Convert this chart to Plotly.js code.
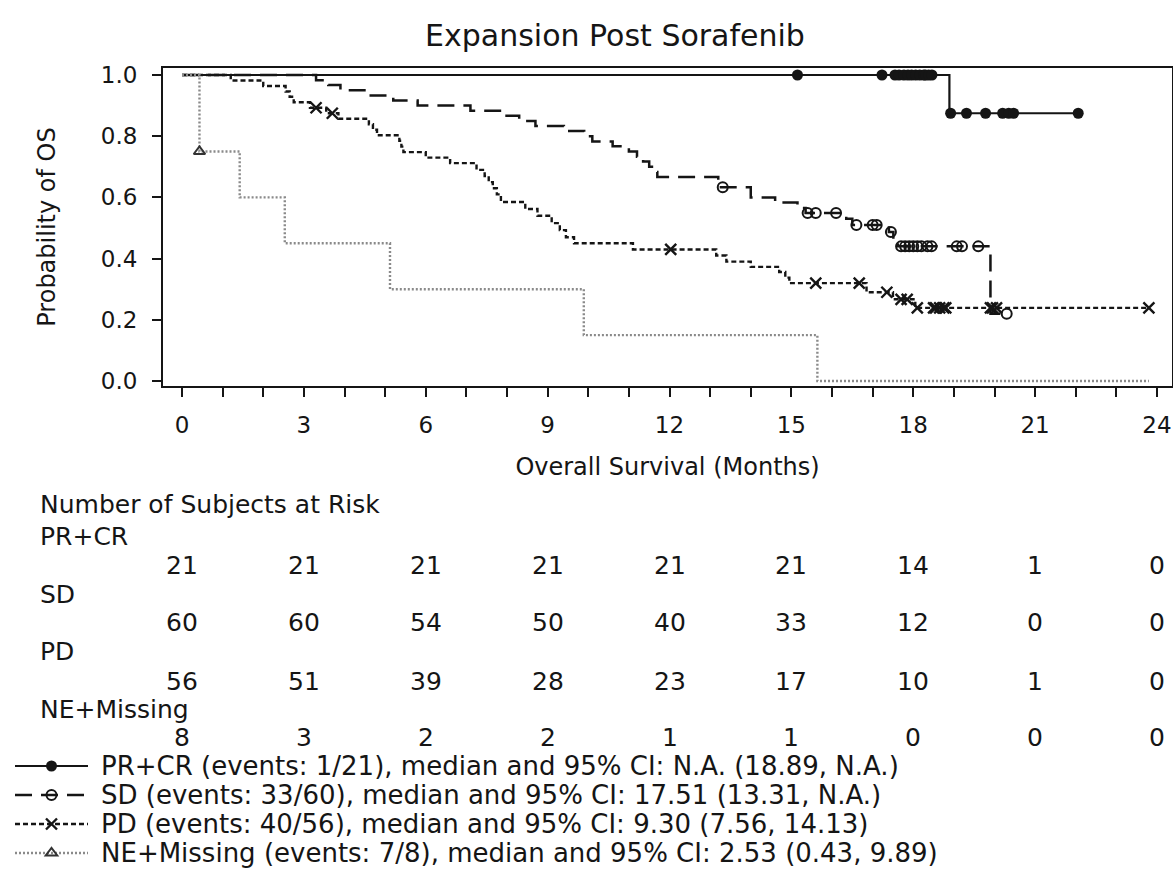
<!DOCTYPE html>
<html><head><meta charset="utf-8">
<script src="https://cdn.plot.ly/plotly-3.0.1.min.js"></script>
<style>html,body{margin:0;padding:0;background:#fff;} #chart{width:1173px;height:887px;}</style>
</head><body><div id="chart"></div>
<script>
// ---------- data ----------
const timeTicks = [0, 3, 6, 9, 12, 15, 18, 21, 24];
const groupNames = ['PR+CR', 'SD', 'PD', 'NE+Missing'];
const legendLabels = [
  'PR+CR (events: 1/21), median and 95% CI: N.A. (18.89, N.A.)',
  'SD (events: 33/60), median and 95% CI: 17.51 (13.31, N.A.)',
  'PD (events: 40/56), median and 95% CI: 9.30 (7.56, 14.13)',
  'NE+Missing (events: 7/8), median and 95% CI: 2.53 (0.43, 9.89)'
];
const atRiskPRCR = [21, 21, 21, 21, 21, 21, 14, 1, 0];
const atRiskSD   = [60, 60, 54, 50, 40, 33, 12, 0, 0];
const atRiskPD   = [56, 51, 39, 28, 23, 17, 10, 1, 0];
const atRiskNE   = [8, 3, 2, 2, 1, 1, 0, 0, 0];

// PR+CR
const prcrEventT  = [18.89];
const prcrEventS  = [0.875];
const prcrCensorT = [15.15, 17.23, 17.55, 17.65, 17.77, 17.87, 17.96, 18.06, 18.16, 18.26, 18.3, 18.38, 18.46,
                     18.92, 19.31, 19.78, 20.2, 20.35, 20.47, 22.06];
// SD
const sdEventT  = [3.3, 3.6, 3.9, 4.6, 5.2, 5.8, 7.1, 7.9, 8.3, 8.7, 9.4, 9.9, 10.1, 10.6, 11.0, 11.2, 11.35,
                   11.5, 11.6, 11.7, 13.2, 14.0, 14.6, 15.15, 15.35, 16.35, 16.5, 17.4, 17.51, 17.62, 19.9];
const sdEventS  = [0.983, 0.967, 0.950, 0.933, 0.917, 0.900, 0.883, 0.867, 0.850, 0.833, 0.817, 0.800, 0.783,
                   0.767, 0.750, 0.733, 0.717, 0.700, 0.683, 0.667, 0.633, 0.600, 0.583, 0.565, 0.549, 0.530,
                   0.510, 0.487, 0.463, 0.440, 0.220];
const sdCensorT = [13.31, 15.4, 15.6, 16.1, 16.6, 17.0, 17.1, 17.45, 17.7, 17.8, 17.9, 18.0, 18.1, 18.2, 18.35,
                   18.45, 19.07, 19.2, 19.6, 20.3];
// PD
const pdEventT  = [1.2, 2.0, 2.55, 2.65, 2.75, 3.15, 3.55, 3.85, 4.6, 4.7, 4.8, 5.35, 5.4, 5.45, 6.0, 6.6,
                   7.25, 7.45, 7.55, 7.65, 7.75, 7.85, 8.45, 8.75, 9.1, 9.3, 9.45, 9.65, 11.1, 13.15, 13.4,
                   14.0, 14.7, 14.85, 14.95, 16.85, 17.5, 18.05];
const pdEventS  = [0.982, 0.964, 0.946, 0.929, 0.911, 0.893, 0.875, 0.857, 0.839, 0.821, 0.803, 0.785, 0.766,
                   0.748, 0.730, 0.712, 0.690, 0.670, 0.650, 0.630, 0.610, 0.585, 0.562, 0.540, 0.516, 0.493,
                   0.470, 0.450, 0.430, 0.410, 0.390, 0.373, 0.356, 0.338, 0.320, 0.290, 0.267, 0.239];
const pdCensorT = [3.3, 3.7, 12.03, 15.6, 16.67, 17.35, 17.7, 17.85, 18.1, 18.5, 18.55, 18.65, 18.75, 18.8,
                   19.9, 19.95, 20.05, 23.8];
// NE+Missing
const neEventT  = [0.43, 1.42, 2.53, 5.12, 9.89, 15.64];
const neEventS  = [0.75, 0.60, 0.45, 0.30, 0.15, 0.0];
const neCensorT = [0.43];
const neFollowUpEnd = 23.8;

// ---------- helpers ----------
function buildKM(eventT, eventS, censorT, endT) {
  const items = [];
  eventT.forEach((t, i) => items.push({t: t, s: eventS[i], ev: true}));
  censorT.forEach(t => items.push({t: t, ev: false}));
  items.sort((a, b) => a.t - b.t || (a.ev === b.ev ? 0 : (a.ev ? -1 : 1)));
  const x = [0], y = [1], sel = [];
  let cur = 1;
  items.forEach(it => {
    if (it.ev) { cur = it.s; x.push(it.t); y.push(cur); }
    else { x.push(it.t); y.push(cur); sel.push(x.length - 1); }
  });
  if (endT !== undefined) { x.push(endT); y.push(cur); }
  return {x, y, sel};
}

const FONT = 'DejaVu Sans, Verdana, sans-serif';
const INK = '#151515';

const styles = [
  {dash: 'solid',     color: INK,       width: 2.2, symbol: 'circle',           msize: 11, mcolor: INK,    mlw: 0},
  {dash: '17px,9px',  color: INK,       width: 2.5, symbol: 'circle-open',      msize: 10, mcolor: INK,    mlw: 2},
  {dash: '5px,3px',   color: INK,       width: 2.4, symbol: 'x-thin-open',      msize: 11, mcolor: INK,    mlw: 2.4},
  {dash: '2px,2px',   color: '#8a8a8a', width: 2.4, symbol: 'triangle-up-open', msize: 10, mcolor: '#333', mlw: 2}
];

const kms = [
  buildKM(prcrEventT, prcrEventS, prcrCensorT),
  buildKM(sdEventT, sdEventS, sdCensorT),
  buildKM(pdEventT, pdEventS, pdCensorT),
  buildKM(neEventT, neEventS, neCensorT, neFollowUpEnd)
];

const traces = kms.map((km, i) => ({
  type: 'scatter',
  mode: 'lines+markers',
  x: km.x, y: km.y,
  name: '',
  legendgroup: groupNames[i],
  line: {shape: 'hv', dash: styles[i].dash, color: styles[i].color, width: styles[i].width},
  marker: {symbol: styles[i].symbol, size: styles[i].msize, color: styles[i].mcolor,
           line: {color: styles[i].mcolor, width: styles[i].mlw}},
  selectedpoints: km.sel,
  selected: {marker: {opacity: 1}},
  unselected: {marker: {opacity: 0}},
  hoverinfo: 'skip'
}));

// ---------- layout geometry ----------
const plotTop = 68, plotBottom = 386;
const py = yPix => (plotBottom - yPix) / (plotBottom - plotTop);
const plotLeft = 163, plotWidth = 1009;
const px = xPix => (xPix - plotLeft) / plotWidth;

const TABLE_SIZE = 25;
const annotations = [];
const labelX = px(38);
annotations.push({text: 'Number of Subjects at Risk', xref: 'paper', yref: 'paper', x: labelX, y: py(504),
                  xanchor: 'left', yanchor: 'middle', showarrow: false, font: {family: FONT, size: TABLE_SIZE, color: INK}});
const riskRows = [atRiskPRCR, atRiskSD, atRiskPD, atRiskNE];
const nameY = [536, 594, 651, 709];
const numY  = [565, 622, 681, 737];
riskRows.forEach((row, g) => {
  annotations.push({text: groupNames[g], xref: 'paper', yref: 'paper', x: labelX, y: py(nameY[g]),
                    xanchor: 'left', yanchor: 'middle', showarrow: false, font: {family: FONT, size: TABLE_SIZE, color: INK}});
  row.forEach((n, k) => {
    annotations.push({text: String(n), xref: 'x', yref: 'paper', x: timeTicks[k], y: py(numY[g]),
                      xanchor: 'center', yanchor: 'middle', showarrow: false, font: {family: FONT, size: TABLE_SIZE, color: INK}});
  });
});
const legendY = [766, 795, 824, 853];
legendLabels.forEach((lab, g) => {
  annotations.push({text: lab, xref: 'paper', yref: 'paper', x: px(99), y: py(legendY[g]),
                    xanchor: 'left', yanchor: 'middle', showarrow: false, font: {family: FONT, size: 26, color: INK}});
});

const layout = {
  width: 1173, height: 887,
  paper_bgcolor: '#fff', plot_bgcolor: '#fff',
  margin: {l: plotLeft, r: 1173 - plotLeft - plotWidth, t: plotTop, b: 887 - plotBottom, pad: 0},
  font: {family: FONT, size: 23, color: INK},
  title: {text: 'Expansion Post Sorafenib', x: 615 / 1173, xref: 'container', xanchor: 'center',
          y: 1 - 35 / 887, yref: 'container', yanchor: 'middle', font: {family: FONT, size: 30, color: INK}},
  xaxis: {
    range: [-0.4677, 24.369], tickvals: timeTicks, ticktext: timeTicks.map(String),
    ticks: 'outside', ticklen: 9, tickwidth: 2, tickcolor: INK,
    minor: {dtick: 1, tick0: 0, ticks: 'outside', ticklen: 9, tickwidth: 2, tickcolor: INK, showgrid: false},
    showline: true, linewidth: 2, linecolor: INK, mirror: true,
    showgrid: false, zeroline: false, ticklabelstandoff: 8,
    tickfont: {family: FONT, size: 23, color: INK},
    title: {text: 'Overall Survival (Months)', standoff: 22, font: {family: FONT, size: 24, color: INK}}
  },
  yaxis: {
    range: [-0.0163, 1.0229], tickvals: [0, 0.2, 0.4, 0.6, 0.8, 1.0], tickformat: '.1f',
    ticks: 'outside', ticklen: 9, tickwidth: 2, tickcolor: INK,
    showline: true, linewidth: 2, linecolor: INK, mirror: true,
    showgrid: false, zeroline: false, ticklabelstandoff: 10,
    tickfont: {family: FONT, size: 23, color: INK},
    title: {text: 'Probability of OS', standoff: 38, font: {family: FONT, size: 24, color: INK}}
  },
  showlegend: true,
  legend: {
    x: px(10), xanchor: 'left', y: py(751.5), yanchor: 'top',
    orientation: 'v', bgcolor: 'rgba(0,0,0,0)', borderwidth: 0,
    font: {family: FONT, size: 10, color: INK},
    itemwidth: 73, tracegroupgap: 10, traceorder: 'grouped',
    itemclick: false, itemdoubleclick: false
  },
  annotations: annotations
};

Plotly.newPlot('chart', traces, layout, {staticPlot: true, displayModeBar: false});
</script>
</body></html>
